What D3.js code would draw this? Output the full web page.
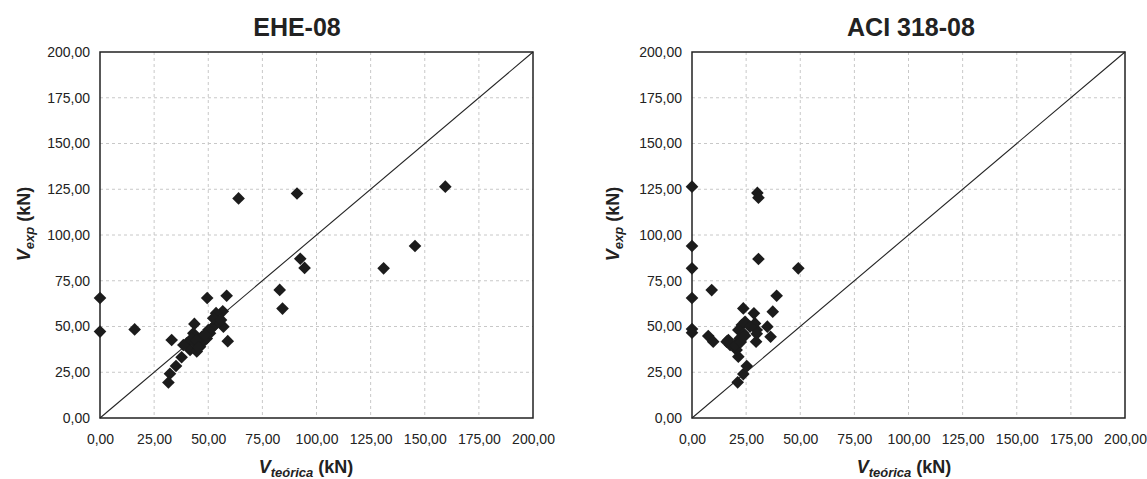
<!DOCTYPE html>
<html>
<head>
<meta charset="utf-8">
<script src="https://cdn.jsdelivr.net/npm/d3@7"></script>
<style>
  html, body { margin: 0; padding: 0; background: #fff; }
  svg { display: block; font-family: "Liberation Sans", Arial, Helvetica, sans-serif; }
</style>
</head>
<body>
<svg id="chart" width="1147" height="479"></svg>
<script>
// ---- data ----
const tickValues = [0, 25, 50, 75, 100, 125, 150, 175, 200];
const titles = ["EHE-08", "ACI 318-08"];

const eheTeorica = [0, 0, 16, 64, 91, 159.5, 145.5, 131, 92.5, 94.5, 83, 84.3, 58.5, 49.5, 56.7, 53.6, 57, 59, 33.1, 32.3, 35.1, 31.6, 37.7,
  43.6, 40, 41.6, 44.7, 46.2, 47.7, 49.3, 50.8, 51.6, 53.1, 54.6, 43.1, 42.4, 38.5, 43.9, 47, 50, 52.3, 55.9, 44.5, 45.5, 48.5];
const eheExp = [65.6, 47.2, 48.4, 120, 122.7, 126.4, 94, 81.8, 87, 82, 70, 59.8, 66.8, 65.6, 58.3, 57.3, 49.9, 42, 42.6, 24.2, 28.4, 19.4, 33.2,
  51.4, 40.8, 37.2, 36.4, 39, 41.7, 43.5, 46.3, 49, 50.8, 52.6, 46.3, 43.5, 39.9, 40.8, 44.4, 48.1, 54.5, 53.6, 42.5, 38.5, 45.5];

const aciTeorica = [0, 0, 0, 0, 0, 0, 30.2, 30.7, 30.7, 49.1, 9.1, 39.1, 37.3, 23.7, 28.6, 34.8, 36.3, 29.6, 7.5, 9.8, 16, 17.6, 20.6, 21.4,
  21.1, 23.7, 25.3, 23, 24.5, 29.1, 29.9, 21.4, 23.7, 22, 19.9, 16.8, 26.8, 29.9, 22.5, 24.5];
const aciExp = [126.4, 94, 81.8, 65.6, 48.6, 46.6, 123, 120.4, 86.9, 81.8, 69.9, 66.8, 58.1, 59.9, 57.2, 49.9, 44.4, 41.7, 44.8, 41.7, 41.7, 39.9, 37.2, 33.5,
  19.5, 24, 28.4, 50.8, 52.6, 51.7, 48.1, 48.1, 46.3, 43.5, 39.9, 42.6, 49.9, 46, 41.5, 45];

// ---- drawing ----
const svg = d3.select("#chart");
const fmt = d => d3.format(".2f")(d).replace(".", ",");

const panels = [
  { title: titles[0], xs: eheTeorica, ys: eheExp, left: 100, right: 533, titleX: 297, xLabelX: 306, yLabelX: 30 },
  { title: titles[1], xs: aciTeorica, ys: aciExp, left: 692, right: 1125, titleX: 911, xLabelX: 904, yLabelX: 619 }
];
const plotTop = 52, plotBottom = 418;

panels.forEach(p => {
  const x = d3.scaleLinear().domain([0, 200]).range([p.left, p.right]);
  const y = d3.scaleLinear().domain([0, 200]).range([plotBottom, plotTop]);
  const g = svg.append("g");

  // grid
  g.append("g").selectAll("line").data(tickValues.slice(1, -1)).join("line")
    .attr("x1", d => x(d)).attr("x2", d => x(d)).attr("y1", plotTop).attr("y2", plotBottom)
    .attr("stroke", "#c8c8c8").attr("stroke-width", 1).attr("stroke-dasharray", "3,3");
  g.append("g").selectAll("line").data(tickValues.slice(1, -1)).join("line")
    .attr("y1", d => y(d)).attr("y2", d => y(d)).attr("x1", p.left).attr("x2", p.right)
    .attr("stroke", "#c8c8c8").attr("stroke-width", 1).attr("stroke-dasharray", "3,3");

  // axes (tick labels only)
  const xAxis = d3.axisBottom(x).tickValues(tickValues).tickFormat(fmt).tickSize(0).tickPadding(16);
  const gx = g.append("g").attr("transform", `translate(0,${plotBottom})`).call(xAxis);
  const yAxis = d3.axisLeft(y).tickValues(tickValues).tickFormat(fmt).tickSize(0).tickPadding(10);
  const gy = g.append("g").attr("transform", `translate(${p.left},0)`).call(yAxis);
  [gx, gy].forEach(a => {
    a.select(".domain").remove();
    a.selectAll("text").attr("font-size", 14).attr("fill", "#222")
      .attr("font-family", "'Liberation Sans', Arial, sans-serif");
  });

  // frame
  g.append("rect").attr("x", p.left).attr("y", plotTop)
    .attr("width", p.right - p.left).attr("height", plotBottom - plotTop)
    .attr("fill", "none").attr("stroke", "#222").attr("stroke-width", 1.5);

  // 1:1 line
  g.append("line").attr("x1", x(0)).attr("y1", y(0)).attr("x2", x(200)).attr("y2", y(200))
    .attr("stroke", "#222").attr("stroke-width", 1.1);

  // points
  const sym = d3.symbol().type(d3.symbolSquare).size(80);
  g.append("g").selectAll("path").data(p.xs.map((v, i) => [v, p.ys[i]])).join("path")
    .attr("d", sym)
    .attr("transform", d => `translate(${x(d[0])},${y(d[1])}) rotate(45)`)
    .attr("fill", "#1c1c1c");

  // title
  g.append("text").attr("x", p.titleX).attr("y", 36).attr("text-anchor", "middle")
    .attr("font-size", 25).attr("font-weight", "bold").attr("fill", "#222").text(p.title);

  // x label
  const xl = g.append("text").attr("x", p.xLabelX).attr("y", 473).attr("text-anchor", "middle")
    .attr("font-size", 18).attr("font-weight", "bold").attr("fill", "#222");
  xl.append("tspan").attr("font-style", "italic").text("V");
  xl.append("tspan").attr("font-style", "italic").attr("font-size", 13).attr("dy", 4).text("teórica");
  xl.append("tspan").attr("dy", -4).text(" (kN)");

  // y label
  const yl = g.append("text").attr("transform", `translate(${p.yLabelX},224) rotate(-90)`)
    .attr("text-anchor", "middle")
    .attr("font-size", 18).attr("font-weight", "bold").attr("fill", "#222");
  yl.append("tspan").attr("font-style", "italic").text("V");
  yl.append("tspan").attr("font-style", "italic").attr("font-size", 13).attr("dy", 4).text("exp");
  yl.append("tspan").attr("dy", -4).text(" (kN)");
});
</script>
</body>
</html>
